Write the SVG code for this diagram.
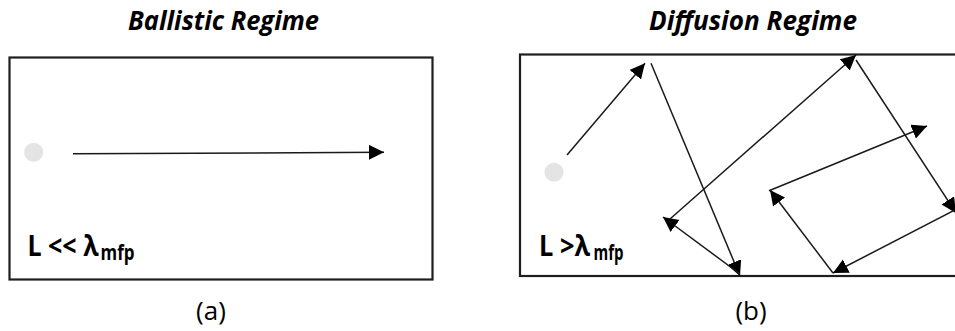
<svg xmlns="http://www.w3.org/2000/svg" width="955" height="331" viewBox="0 0 955 331">
  <style>
    .box { fill: #ffffff; stroke: #1e1e1e; stroke-width: 2.2; }
    .dot { fill: #e4e4e4; }
    .title { font-family: "Open Sans", "DejaVu Sans", sans-serif; font-weight: bold; font-style: italic; font-size: 27px; fill: #000; }
    .cap { font-family: "Open Sans", "DejaVu Sans", sans-serif; font-size: 26px; fill: #000; text-anchor: middle; }
    .lab { font-family: "Open Sans", "DejaVu Sans", sans-serif; font-weight: bold; font-size: 29px; fill: #000; }
    .sub { font-size: 22px; }
    .arr { fill: none; stroke: #1a1a1a; stroke-width: 1.5; marker-end: url(#ah); }
  </style>
  <defs>
    <marker id="ah" markerUnits="userSpaceOnUse" markerWidth="16" markerHeight="16" refX="15" refY="7.5" orient="auto">
      <path d="M0,0 L15,7.5 L0,15 Z" fill="#000"/>
    </marker>
  </defs>

  <g id="panel-a">
    <text class="title" x="128" y="30" textLength="191" lengthAdjust="spacingAndGlyphs">Ballistic Regime</text>
    <rect class="box" x="9.5" y="57.5" width="423" height="222"/>
    <circle class="dot" cx="33.7" cy="152.3" r="9.5"/>
    <text class="lab" x="27.5" y="255.5"><tspan textLength="71" lengthAdjust="spacingAndGlyphs">L &lt;&lt; λ</tspan><tspan class="sub" x="100.5" y="260" textLength="34" lengthAdjust="spacingAndGlyphs">mfp</tspan></text>
    <text class="cap" x="211" y="320">(a)</text>
  </g>

  <g id="panel-b">
    <text class="title" x="649" y="30" textLength="208" lengthAdjust="spacingAndGlyphs">Diffusion Regime</text>
    <rect class="box" x="520" y="54.5" width="450" height="221.5"/>
    <circle class="dot" cx="554" cy="172.3" r="9.5"/>
    <text class="lab" x="539" y="255.5"><tspan textLength="51" lengthAdjust="spacingAndGlyphs">L &gt;λ</tspan><tspan class="sub" x="593.5" y="260" textLength="30" lengthAdjust="spacingAndGlyphs">mfp</tspan></text>
    <text class="cap" x="751" y="320">(b)</text>
  </g>

  <g id="connectors">
    <line class="arr" x1="73" y1="153.7" x2="384" y2="152.3"/>
    <line class="arr" x1="567" y1="155" x2="645" y2="63.3"/>
    <line class="arr" x1="651" y1="63.3" x2="740" y2="276"/>
    <line class="arr" x1="740" y1="274" x2="663" y2="217"/>
    <line class="arr" x1="670" y1="219" x2="856" y2="55"/>
    <line class="arr" x1="856" y1="60" x2="956" y2="213"/>
    <line class="arr" x1="955" y1="210" x2="833" y2="273"/>
    <line class="arr" x1="833" y1="273" x2="770" y2="190"/>
    <line class="arr" x1="769" y1="190.7" x2="927" y2="126"/>
  </g>
</svg>
